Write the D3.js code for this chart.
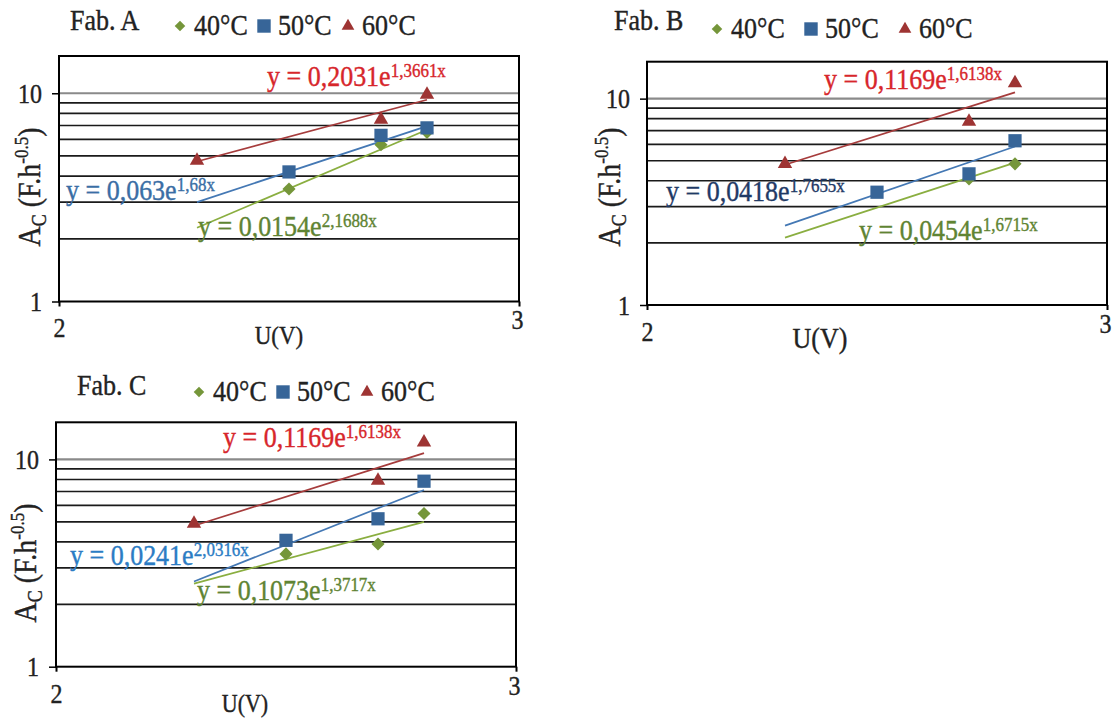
<!DOCTYPE html>
<html><head><meta charset="utf-8">
<script src="https://cdn.jsdelivr.net/npm/d3@7"></script>
<style>
body{margin:0;background:#fff}
svg{display:block}
text{font-family:"Liberation Serif","Times New Roman",serif}
</style>
</head><body>
<svg id="chart" width="1115" height="718"></svg>
<script>
// ---------------- DATA ----------------
const voltages = [2.3, 2.5, 2.7, 2.8];
const seriesNames = ["40°C", "50°C", "60°C"];
const panelNames = ["Fab. A", "Fab. B", "Fab. C"];

const fabA_40 = [null, 3.47, 5.66, 6.49];
const fabA_50 = [null, 4.19, 6.28, 6.82];
const fabA_60 = [4.75, null, 7.47, 9.86];

const fabB_40 = [null, null, 4.08, 4.83];
const fabB_50 = [null, 3.52, 4.32, 6.25];
const fabB_60 = [4.83, null, 7.75, 11.9];

const fabC_40 = [null, 3.50, 3.91, 5.48];
const fabC_50 = [null, 4.07, 5.17, 7.85];
const fabC_60 = [4.90, null, 7.91, 12.08];

// exponential trendlines y = a * e^(b x), per series 40/50/60
const fabA_coefA = [0.0154, 0.063, 0.2031];
const fabA_coefB = [2.1688, 1.68, 1.3661];
const fabB_coefA = [0.0454, 0.0418, 0.1169];
const fabB_coefB = [1.6715, 1.7655, 1.6138];
const fabC_coefA = [0.1073, 0.0241, 0.1169];
const fabC_coefB = [1.3717, 2.0316, 1.6138];

const trendRange = [2.3, 2.8];
const xDomain = [2, 3];
const yDomain = [1, 15.1];
const xTicks = [2, 3];
const yTicks = [1, 10];
const yGrid = [2, 3, 4, 5, 6, 7, 8, 9, 10];
const xTitle = "U(V)";

// ---------------- STYLE / LAYOUT ----------------
const K = 1.12; // vertical stretch of glyphs, as in the reference
const markerColors = ["#75963a", "#376598", "#9e3433"];
const lineColors = ["#8aae40", "#4478b4", "#a63c3c"];
const eqGreen = "#5f8433", eqRed = "#d7262b";
const symbols = [d3.symbolSquare, d3.symbolSquare, d3.symbolTriangle];
const symRot = [45, 0, 0];
const plotSizes = [86, 175, 90];
const legendSizes = [56, 180, 70];

const panels = [
  {name: panelNames[0], s: [fabA_40, fabA_50, fabA_60], ca: fabA_coefA, cb: fabA_coefB,
   x0: 59, x1: 519, y0: 56, y1: 301.5,
   title: [70, 30], legend: {x: 180, y: 35, step: 84},
   yTitle: [29, 187], xT: [279, 344, 23],
   eq: [[198, 236], [66, 200], [267, 86]], eqColors: [eqGreen, "#3a6ea5", eqRed]},
  {name: panelNames[1], s: [fabB_40, fabB_50, fabB_60], ca: fabB_coefA, cb: fabB_coefB,
   x0: 647, x1: 1107, y0: 61.7, y1: 305,
   title: [614, 30], legend: {x: 717, y: 38, step: 94},
   yTitle: [609, 187], xT: [820, 348, 26],
   eq: [[859, 240], [666, 201], [824, 89]], eqColors: [eqGreen, "#1f3a66", eqRed]},
  {name: panelNames[2], s: [fabC_40, fabC_50, fabC_60], ca: fabC_coefA, cb: fabC_coefB,
   x0: 56, x1: 516, y0: 422.3, y1: 666.7,
   title: [77, 395], legend: {x: 199, y: 401, step: 84},
   yTitle: [25, 563], xT: [245, 712, 22],
   eq: [[197, 600], [70, 565], [223, 447]], eqColors: [eqGreen, "#2b7cc4", eqRed]}
];

const svg = d3.select("#chart");
svg.append("rect").attr("width", 1115).attr("height", 718).attr("fill", "#fff");

const fmtNum = v => String(v).replace(".", ",");
// stretch glyphs vertically around the baseline
const stretch = (sel, yv) => sel.attr("transform", `translate(0,${yv * (1 - K)}) scale(1,${K})`);
// slight thickening, like the reference's heavier glyphs
const heavy = (sel, c) => sel.attr("stroke", c).attr("stroke-width", 0.35);

panels.forEach(p => {
  const g = svg.append("g");
  const x = d3.scaleLinear().domain(xDomain).range([p.x0, p.x1]);
  const y = d3.scaleLog().domain(yDomain).range([p.y1, p.y0]);

  // gridlines
  g.selectAll("line.grid").data(yGrid).join("line")
    .attr("x1", p.x0).attr("x2", p.x1)
    .attr("y1", d => y(d)).attr("y2", d => y(d))
    .attr("stroke", d => d === 10 ? "#8a8a8a" : "#1a1a1a")
    .attr("stroke-width", d => d === 10 ? 2.2 : 1.7);

  // border
  g.append("rect").attr("x", p.x0).attr("y", p.y0)
    .attr("width", p.x1 - p.x0).attr("height", p.y1 - p.y0)
    .attr("fill", "none").attr("stroke", "#000").attr("stroke-width", 2);

  // y axis
  const ya = g.append("g").attr("transform", `translate(${p.x0},0)`)
    .call(d3.axisLeft(y).tickValues(yTicks).tickSize(7).tickPadding(10).tickFormat(d3.format("d")));
  ya.select(".domain").remove();
  ya.selectAll("line").attr("stroke", "#000").attr("stroke-width", 1.5);
  ya.selectAll("text").attr("font-size", 24).attr("fill", "#222")
    .attr("font-family", "Liberation Serif, serif")
    .attr("dy", "0.34em").attr("y", 0)
    .attr("transform", `scale(1,${K})`)
    .call(s => heavy(s, "#222"));

  // x axis
  const xa = g.append("g").attr("transform", `translate(0,${p.y1})`)
    .call(d3.axisBottom(x).tickValues(xTicks).tickSize(5).tickFormat(d3.format("d")));
  xa.select(".domain").remove();
  xa.selectAll("line").attr("stroke", "#000").attr("stroke-width", 2);
  xa.selectAll("text").attr("font-size", 24).attr("fill", "#222")
    .attr("font-family", "Liberation Serif, serif")
    .attr("dy", 0)
    .attr("y", d => d === xDomain[0] ? 36 : 28)
    .attr("dx", d => d === xDomain[1] ? -2 : 0)
    .call(s => heavy(s, "#222"))
    .each(function(d){ stretch(d3.select(this), d === xDomain[0] ? 36 : 28); });

  // axis titles
  g.append("text").attr("x", p.xT[0]).attr("y", p.xT[1]).attr("text-anchor", "middle")
    .attr("font-size", p.xT[2]).attr("fill", "#222").text(xTitle)
    .call(s => heavy(s, "#222"))
    .call(s => stretch(s, p.xT[1]));

  const yt = g.append("text").attr("transform", `translate(${p.yTitle[0]},${p.yTitle[1]}) rotate(-90) scale(1,${K})`)
    .attr("text-anchor", "middle").attr("font-size", 28).attr("fill", "#222").attr("dy", "0.35em")
    .call(s => heavy(s, "#222"));
  yt.append("tspan").text("A");
  yt.append("tspan").attr("font-size", 18).attr("dy", 5).text("C");
  yt.append("tspan").attr("dy", -5).text(" (F.h");
  yt.append("tspan").attr("font-size", 17).attr("dy", -11).text("-0.5");
  yt.append("tspan").attr("dy", 11).text(")");

  // trendlines
  const line = d3.line().x(d => x(d[0])).y(d => y(d[1]));
  p.ca.forEach((a, i) => {
    const b = p.cb[i];
    const pts = trendRange.map(v => [v, a * Math.exp(b * v)]);
    g.append("path").attr("d", line(pts)).attr("fill", "none")
      .attr("stroke", lineColors[i]).attr("stroke-width", 1.7);
  });

  // markers
  p.s.forEach((vals, i) => {
    const pts = voltages.map((v, k) => [v, vals[k]]).filter(d => d[1] != null);
    g.selectAll(null).data(pts).join("path")
      .attr("d", d3.symbol().type(symbols[i]).size(plotSizes[i]))
      .attr("transform", d => `translate(${x(d[0])},${y(d[1])}) rotate(${symRot[i]})`)
      .attr("fill", markerColors[i]);
  });

  // equations
  p.ca.forEach((a, i) => {
    const t = g.append("text").attr("x", p.eq[i][0]).attr("y", p.eq[i][1])
      .attr("font-size", 26).attr("fill", p.eqColors[i]).call(s => heavy(s, p.eqColors[i]));
    t.append("tspan").text(`y = ${fmtNum(a)}e`);
    t.append("tspan").attr("font-size", 17).attr("dy", -8).text(`${fmtNum(p.cb[i])}x`);
    stretch(t, p.eq[i][1]);
  });

  // panel title & legend
  g.append("text").attr("x", p.title[0]).attr("y", p.title[1]).attr("font-size", 26)
    .attr("fill", "#222").text(p.name).call(s => heavy(s, "#222")).call(s => stretch(s, p.title[1]));
  seriesNames.forEach((nm, i) => {
    const mx = p.legend.x + i * p.legend.step;
    g.append("path").attr("d", d3.symbol().type(symbols[i]).size(legendSizes[i]))
      .attr("transform", `translate(${mx},${p.legend.y - 9}) rotate(${symRot[i]})`)
      .attr("fill", markerColors[i]);
    g.append("text").attr("x", mx + 14).attr("y", p.legend.y).attr("font-size", 26)
      .attr("fill", "#222").text(nm).call(s => heavy(s, "#222")).call(s => stretch(s, p.legend.y));
  });
});
</script>
</body></html>
